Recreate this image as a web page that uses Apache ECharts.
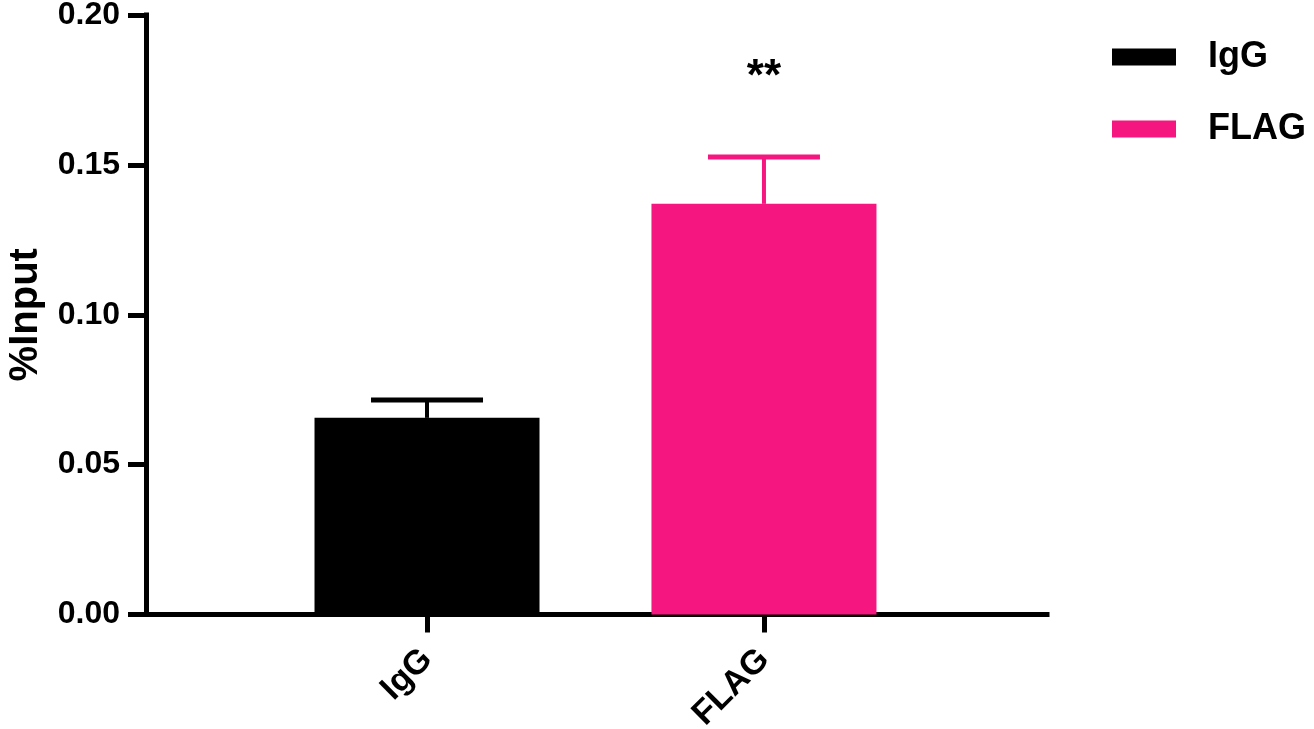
<!DOCTYPE html>
<html>
<head>
<meta charset="utf-8">
<script src="https://cdn.jsdelivr.net/npm/echarts@6/dist/echarts.min.js"></script>
<style>
html,body{margin:0;padding:0;background:#fff;}
#chart{width:1314px;height:729px;}
</style>
</head>
<body>
<div id="chart"></div>
<script>
// ---- data ----
const categories = ['IgG', 'FLAG'];
const positions = [1, 2];            // category positions on the x scale
const means = [0.0656, 0.137];
const errors = [0.0060, 0.0156];     // upper error (SEM)
const colors = ['#000000', '#F5177F'];
const sigLabels = ['', '**'];
const sigValues = [null, 0.179];
const yTickValues = [0, 0.05, 0.10, 0.15, 0.20];

const FONT = "'Liberation Sans', Arial, Helvetica, sans-serif";

const chart = echarts.init(document.getElementById('chart'), null, {renderer: 'canvas'});

const barSeries = categories.map((c, i) => ({
  type: 'bar',
  name: c,
  data: [[positions[i], means[i]]],
  barWidth: 225,
  barGap: '-100%',
  itemStyle: {color: colors[i]},
  z: 2,
  silent: true
}));

const errSeries = {
  type: 'custom',
  z: 3,
  silent: true,
  data: categories.map((c, i) => [positions[i], means[i], means[i] + errors[i], i]),
  renderItem: function (params, api) {
    const x = api.value(0);
    const p0 = api.coord([x, api.value(1)]);
    const p1 = api.coord([x, api.value(2)]);
    const col = colors[api.value(3)];
    const half = 56;
    return {
      type: 'group',
      children: [
        {type: 'line', shape: {x1: p0[0], y1: p0[1], x2: p1[0], y2: p1[1]},
         style: {stroke: col, lineWidth: 4}},
        {type: 'line', shape: {x1: p1[0] - half, y1: p1[1], x2: p1[0] + half, y2: p1[1]},
         style: {stroke: col, lineWidth: 5}}
      ]
    };
  }
};

const sigSeries = {
  type: 'custom',
  z: 4,
  silent: true,
  data: categories.map((c, i) => [positions[i], sigValues[i], i]).filter(d => d[1] !== null && sigLabels[d[2]]),
  renderItem: function (params, api) {
    const p = api.coord([api.value(0), api.value(1)]);
    return {
      type: 'text',
      x: p[0], y: p[1],
      style: {
        text: sigLabels[api.value(2)],
        fontFamily: FONT, fontWeight: 'bold', fontSize: 44,
        fill: '#000', align: 'center', verticalAlign: 'middle'
      }
    };
  }
};

const option = {
  animation: false,
  backgroundColor: '#ffffff',
  grid: {left: 146, right: 267, top: 15, bottom: 114.5, containLabel: false, outerBoundsMode: 'none'},
  legend: {
    data: categories,
    orient: 'vertical',
    left: 1107,
    top: 34,
    icon: 'rect',
    itemWidth: 64,
    itemHeight: 17,
    itemGap: 36,
    selectedMode: false,
    textStyle: {fontFamily: FONT, fontWeight: 'bold', fontSize: 36, color: '#000',
                lineHeight: 36, padding: [0, 0, 0, 27]}
  },
  xAxis: {
    type: 'value',
    min: 0.166,
    max: 2.84,
    splitLine: {show: false},
    axisLine: {show: true, onZero: false, lineStyle: {color: '#000', width: 5, cap: 'square'}},
    axisTick: {show: true, customValues: positions, length: 18, lineStyle: {color: '#000', width: 5}},
    axisLabel: {
      show: true, customValues: positions, rotate: 45, margin: 40,
      fontFamily: FONT, fontWeight: 'bold', fontSize: 34, color: '#000',
      formatter: function (v) { const i = positions.indexOf(v); return i >= 0 ? categories[i] : ''; }
    }
  },
  yAxis: {
    type: 'value',
    min: 0,
    max: 0.2,
    interval: 0.05,
    name: '%Input',
    nameLocation: 'middle',
    nameRotate: 90,
    nameGap: 100,
    nameTextStyle: {fontFamily: FONT, fontWeight: 'bold', fontSize: 40, color: '#000'},
    splitLine: {show: false},
    axisLine: {show: true, lineStyle: {color: '#000', width: 5, cap: 'square'}},
    axisTick: {show: true, length: 18, lineStyle: {color: '#000', width: 5}},
    axisLabel: {
      margin: 26, fontFamily: FONT, fontWeight: 'bold', fontSize: 32, color: '#000',
      formatter: function (v) { return v.toFixed(2); }
    }
  },
  series: barSeries.concat([errSeries, sigSeries])
};

chart.setOption(option);
</script>
</body>
</html>
